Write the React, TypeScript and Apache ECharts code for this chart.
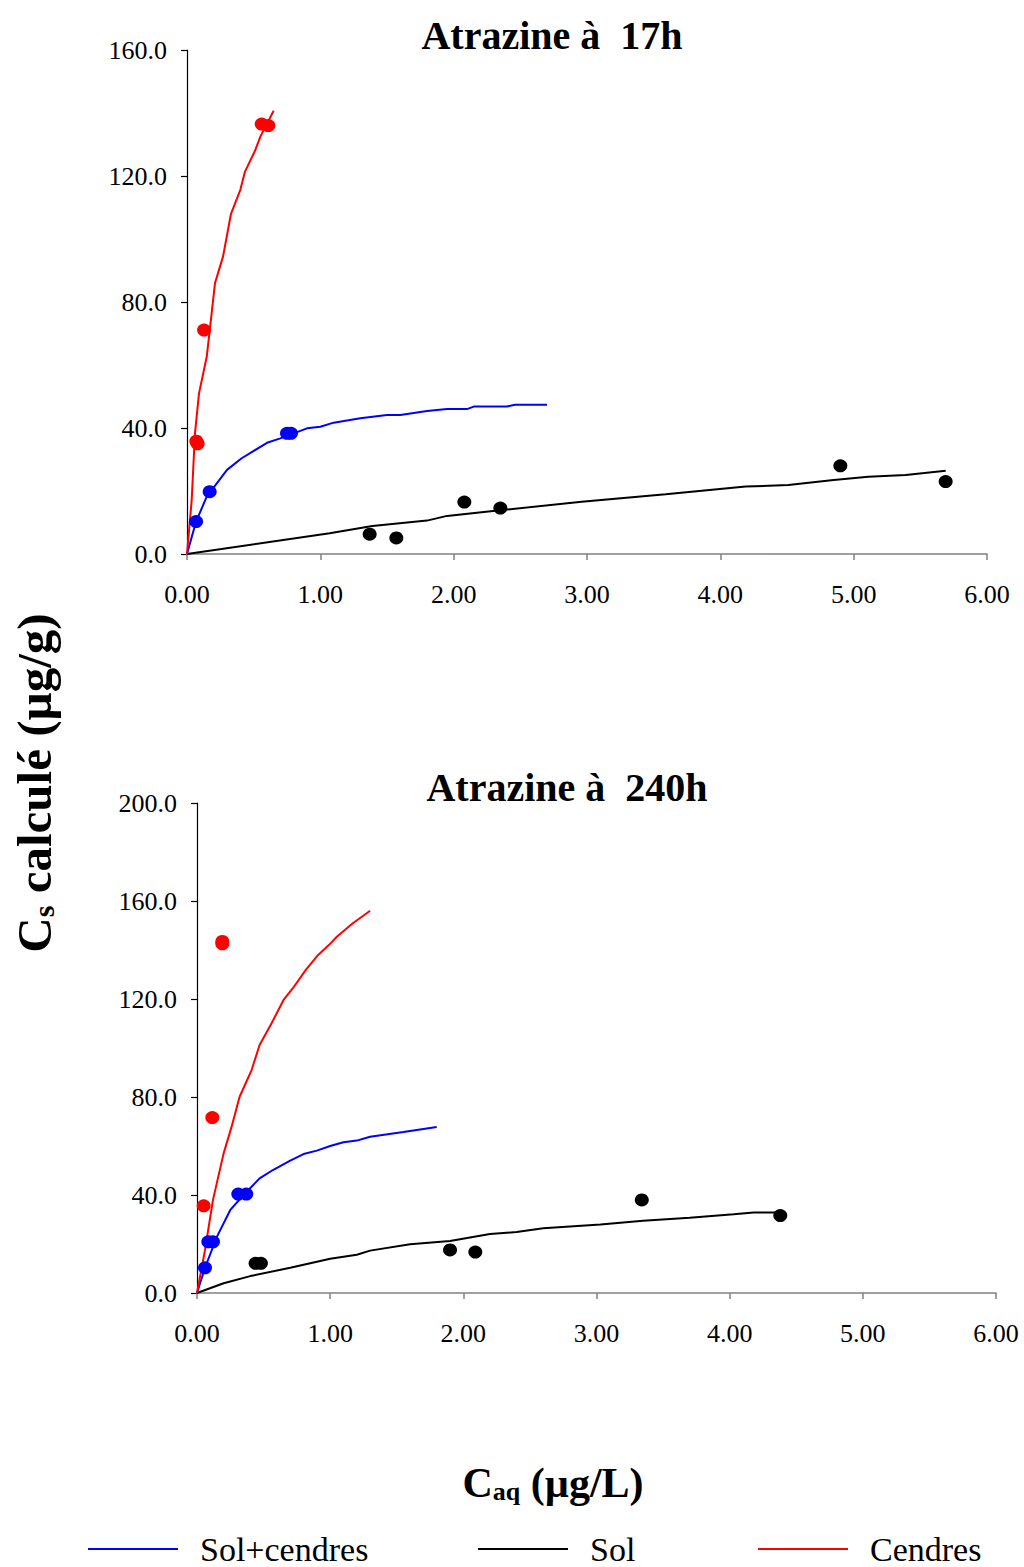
import React, { useEffect, useRef } from "react";
import * as echarts from "echarts";

// ---- Data: Atrazine à 17h ----
const cendres17LineX = [0, 0.035, 0.06, 0.09, 0.148, 0.185, 0.21, 0.27, 0.33, 0.40, 0.435, 0.51, 0.55, 0.65];
const cendres17LineY = [0, 17, 38.4, 51, 62.6, 76.5, 86, 94.4, 108, 115.6, 121.4, 128, 132.5, 140.7];
const cendres17PtsX = [0.07, 0.08, 0.128, 0.56, 0.61];
const cendres17PtsY = [35.8, 35.0, 71.1, 136.5, 136.0];

const solCendres17LineX = [0, 0.068, 0.148, 0.30, 0.41, 0.60, 0.70, 0.90, 1.00, 1.10, 1.30, 1.50, 1.60, 1.80, 1.95, 2.10, 2.15, 2.40, 2.46, 2.70];
const solCendres17LineY = [0, 10.3, 18.2, 26.7, 30.4, 35.3, 36.7, 39.9, 40.4, 41.7, 43.1, 44.1, 44.1, 45.4, 46.0, 46.0, 46.8, 46.8, 47.4, 47.4];
const solCendres17PtsX = [0.068, 0.17, 0.75, 0.78];
const solCendres17PtsY = [10.3, 19.8, 38.3, 38.3];

const sol17LineX = [0, 1.07, 1.39, 1.80, 1.95, 2.33, 2.96, 3.59, 4.19, 4.51, 4.85, 5.11, 5.39, 5.69];
const sol17LineY = [0, 6.6, 8.9, 10.6, 12.1, 13.8, 16.6, 19.0, 21.4, 21.9, 23.5, 24.5, 25.1, 26.4];
const sol17PtsX = [1.37, 1.57, 2.08, 2.35, 4.90, 5.69];
const sol17PtsY = [6.3, 5.1, 16.5, 14.6, 28.0, 23.0];

// ---- Data: Atrazine à 240h ----
const cendres240LineX = [0, 0.06, 0.12, 0.16, 0.20, 0.26, 0.32, 0.41, 0.47, 0.56, 0.65, 0.72, 0.82, 0.91, 0.99, 1.05, 1.17, 1.30];
const cendres240LineY = [0, 17.5, 38.0, 47.5, 57.0, 67.9, 80.1, 91.0, 101.2, 110.1, 119.6, 124.4, 132.1, 138.0, 142.0, 145.4, 150.9, 156.0];
const cendres240PtsX = [0.05, 0.115, 0.19, 0.19];
const cendres240PtsY = [35.6, 71.6, 143.5, 142.5];

const solCendres240LineX = [0, 0.06, 0.15, 0.25, 0.35, 0.47, 0.57, 0.70, 0.80, 0.90, 1.00, 1.10, 1.20, 1.30, 1.55, 1.80];
const solCendres240LineY = [0, 10.3, 23.0, 33.9, 40.0, 46.8, 50.2, 54.0, 56.7, 58.1, 60.0, 61.5, 62.2, 63.8, 65.7, 67.8];
const solCendres240PtsX = [0.06, 0.085, 0.12, 0.31, 0.37];
const solCendres240PtsY = [10.3, 20.9, 20.9, 40.4, 40.4];

const sol240LineX = [0, 0.20, 0.40, 0.70, 1.00, 1.20, 1.30, 1.60, 1.90, 2.20, 2.40, 2.60, 3.03, 3.35, 3.70, 4.03, 4.18, 4.38];
const sol240LineY = [0, 4.0, 6.9, 10.3, 14.0, 15.6, 17.3, 19.9, 21.2, 24.1, 24.9, 26.4, 28.0, 29.5, 30.7, 32.1, 32.9, 32.9];
const sol240PtsX = [0.44, 0.48, 1.90, 2.09, 3.34, 4.38];
const sol240PtsY = [12.1, 12.1, 17.6, 16.7, 38.0, 31.6];

const titles = ["Atrazine à  17h", "Atrazine à  240h"];
const legendNames = ["Sol+cendres", "Sol", "Cendres"];
const colors = { "Sol+cendres": "#0000FF", Sol: "#000000", Cendres: "#FF0000" };

const FONT = "'Liberation Serif', 'DejaVu Serif', serif";

const zip = (xs: number[], ys: number[]) => xs.map((x, i) => [x, ys[i]]);

function lineSeries(name: string, xs: number[], ys: number[], idx: number) {
  return {
    type: "line",
    name,
    xAxisIndex: idx,
    yAxisIndex: idx,
    data: zip(xs, ys),
    showSymbol: false,
    symbol: "none",
    lineStyle: { color: (colors as any)[name], width: 2 },
    itemStyle: { color: (colors as any)[name] },
    z: 2,
  };
}
function scatterSeries(name: string, xs: number[], ys: number[], idx: number) {
  return {
    type: "scatter",
    name: name + " (mesuré)",
    xAxisIndex: idx,
    yAxisIndex: idx,
    data: zip(xs, ys),
    symbol: "circle",
    symbolSize: [14, 13],
    itemStyle: { color: (colors as any)[name], opacity: 1 },
    z: 3,
  };
}

export default function App() {
  const ref = useRef<HTMLDivElement>(null);
  useEffect(() => {
    if (!ref.current) return;
    const chart = echarts.init(ref.current, null, { renderer: "svg" });
    const xAxisCommon = {
      type: "value",
      min: 0,
      max: 6,
      interval: 1,
      axisLine: { show: true, lineStyle: { color: "#808080", width: 1.5 } },
      axisTick: { show: true, inside: false, length: 6, lineStyle: { color: "#808080", width: 1.5 } },
      splitLine: { show: false },
      axisLabel: {
        fontFamily: FONT,
        fontSize: 26,
        color: "#000",
        margin: 27,
        formatter: (v: number) => v.toFixed(2),
      },
    };
    const yAxisCommon = {
      type: "value",
      min: 0,
      interval: 40,
      axisLine: { show: true, lineStyle: { color: "#000", width: 1.2 } },
      axisTick: { show: true, inside: false, length: 6, lineStyle: { color: "#000", width: 1.2 } },
      splitLine: { show: false },
      axisLabel: {
        fontFamily: FONT,
        fontSize: 26,
        color: "#000",
        margin: 20,
        formatter: (v: number) => v.toFixed(1),
      },
    };
    const legendPos = [88, 478, 758];
    chart.setOption({
      animation: false,
      backgroundColor: "#fff",
      title: [
        {
          text: titles[0],
          left: 547,
          top: 10,
          textAlign: "center",
          textStyle: { fontFamily: FONT, fontWeight: "bold", fontSize: 40, color: "#000" },
        },
        {
          text: titles[1],
          left: 562,
          top: 762,
          textAlign: "center",
          textStyle: { fontFamily: FONT, fontWeight: "bold", fontSize: 40, color: "#000" },
        },
      ],
      grid: [
        { left: 187, top: 50, width: 800, height: 504, containLabel: false },
        { left: 197, top: 803, width: 799, height: 490, containLabel: false },
      ],
      xAxis: [
        { ...xAxisCommon, gridIndex: 0 },
        { ...xAxisCommon, gridIndex: 1 },
      ],
      yAxis: [
        { ...yAxisCommon, gridIndex: 0, max: 160 },
        { ...yAxisCommon, gridIndex: 1, max: 200 },
      ],
      legend: legendNames.map((n, i) => ({
        data: [n],
        left: legendPos[i],
        top: 1532,
        padding: 0,
        icon: "rect",
        itemWidth: 90,
        itemHeight: 2,
        selectedMode: false,
        textStyle: { fontFamily: FONT, fontSize: 34, color: "#000", padding: [0, 0, 0, 17] },
      })),
      graphic: [
        {
          type: "text",
          x: 34,
          y: 783,
          rotation: Math.PI / 2,
          style: {
            text: "{a|C}{b|s}{a| calculé (µg/g)}",
            align: "center",
            verticalAlign: "middle",
            rich: {
              a: { fontFamily: FONT, fontWeight: "bold", fontSize: 49, fill: "#000" },
              b: { fontFamily: FONT, fontWeight: "bold", fontSize: 30, fill: "#000", padding: [18, 0, 0, 0] },
            },
          },
        },
        {
          type: "text",
          x: 553,
          y: 1483,
          style: {
            text: "{a|C}{b|aq}{a| (µg/L)}",
            align: "center",
            verticalAlign: "middle",
            rich: {
              a: { fontFamily: FONT, fontWeight: "bold", fontSize: 42, fill: "#000" },
              b: { fontFamily: FONT, fontWeight: "bold", fontSize: 26, fill: "#000", padding: [16, 0, 0, 0] },
            },
          },
        },
      ],
      series: [
        lineSeries("Sol+cendres", solCendres17LineX, solCendres17LineY, 0),
        lineSeries("Sol", sol17LineX, sol17LineY, 0),
        lineSeries("Cendres", cendres17LineX, cendres17LineY, 0),
        scatterSeries("Sol+cendres", solCendres17PtsX, solCendres17PtsY, 0),
        scatterSeries("Sol", sol17PtsX, sol17PtsY, 0),
        scatterSeries("Cendres", cendres17PtsX, cendres17PtsY, 0),
        lineSeries("Sol+cendres", solCendres240LineX, solCendres240LineY, 1),
        lineSeries("Sol", sol240LineX, sol240LineY, 1),
        lineSeries("Cendres", cendres240LineX, cendres240LineY, 1),
        scatterSeries("Sol+cendres", solCendres240PtsX, solCendres240PtsY, 1),
        scatterSeries("Sol", sol240PtsX, sol240PtsY, 1),
        scatterSeries("Cendres", cendres240PtsX, cendres240PtsY, 1),
      ],
    });
    return () => chart.dispose();
  }, []);
  return (
    <div
      ref={ref}
      style={{ position: "absolute", left: 0, top: 0, width: 1024, height: 1567, background: "#fff" }}
    />
  );
}
